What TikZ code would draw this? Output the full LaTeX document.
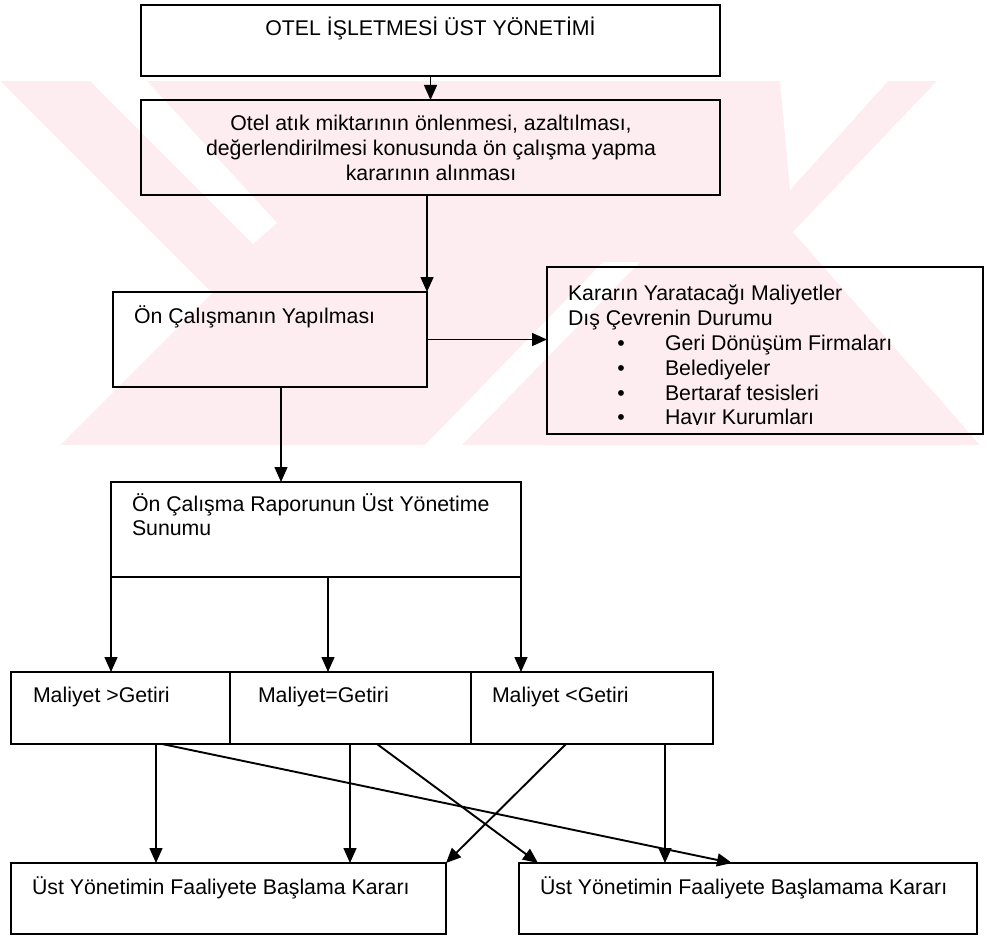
\documentclass[tikz,border=0pt]{standalone}
\usepackage{fontspec}
\setmainfont{Liberation Sans}
\usetikzlibrary{arrows.meta,calc}
\definecolor{wm}{RGB}{253,236,240}
\begin{document}
\begin{tikzpicture}[x=1pt,y=-1pt,
  box/.style={draw=black, line width=1.7pt, inner sep=0pt, outer sep=0pt},
  txt/.style={inner sep=0pt, outer sep=0pt, font=\fontsize{21.3}{25}\selectfont},
  arr/.style={draw=black, line width=1.5pt, -{Triangle[length=15pt,width=13pt]}},
  darr/.style={arr, line width=1.9pt},
]
\useasboundingbox (0,0) rectangle (998,936);

% pale background emblem
\fill[wm] (0,81) rectangle (998,445);
\fill[white] (0,81) -- (212,293) -- (60,445) -- (0,445) -- cycle;
\fill[white] (90,81) -- (147,81) -- (277,223) -- (253,244) -- cycle;
\fill[white] (937,81) -- (998,81) -- (998,445) -- (980,445) -- (793,232) -- cycle;
\fill[white] (780,81) -- (888,81) -- (790,190) -- cycle;
\fill[white] (425,445) -- (462,445) -- (640,262) -- (603,262) -- cycle;

% boxes
\node[box, anchor=north west, minimum width=579pt, minimum height=71pt]  (top)  at (141,5)   {};
\node[box, anchor=north west, minimum width=579pt, minimum height=95pt]  (dec)  at (141,100) {};
\node[box, anchor=north west, minimum width=314pt, minimum height=95pt]  (pre)  at (113,292) {};
\node[box, anchor=north west, minimum width=436pt, minimum height=167pt] (ext)  at (547,267) {};
\node[box, anchor=north west, minimum width=410pt, minimum height=95pt]  (rep)  at (111,482) {};
\node[box, anchor=north west, minimum width=219pt, minimum height=72pt]  (mA)   at (11,672)  {};
\node[box, anchor=north west, minimum width=241pt, minimum height=72pt]  (mB)   at (230,672) {};
\node[box, anchor=north west, minimum width=242pt, minimum height=72pt]  (mC)   at (471,672) {};
\node[box, anchor=north west, minimum width=435pt, minimum height=71pt]  (go)   at (11,863)  {};
\node[box, anchor=north west, minimum width=458pt, minimum height=71pt]  (nogo) at (519,863) {};

% texts
\node[txt, anchor=base] (ttop) at (430.5,36) {OTEL İŞLETMESİ ÜST YÖNETİMİ};
\node[txt, anchor=base] (td1) at (431,131) {Otel atık miktarının önlenmesi, azaltılması,};
\node[txt, anchor=base] (td2) at (431,156) {değerlendirilmesi konusunda ön çalışma yapma};
\node[txt, anchor=base] (td3) at (431,181) {kararının alınması};
\node[txt, anchor=base west] (tpre) at (134,323) {Ön Çalışmanın Yapılması};

\node[txt, anchor=base west] (te1) at (568,300) {Kararın Yaratacağı Maliyetler};
\node[txt, anchor=base west] (te2) at (568,325) {Dış Çevrenin Durumu};
\node[txt, anchor=base] (b1) at (621,350) {•};
\node[txt, anchor=base] (b2) at (621,375) {•};
\node[txt, anchor=base] (b3) at (621,400) {•};
\node[txt, anchor=base] (b4) at (621,424) {•};
\node[txt, anchor=base west] (ti1) at (665,350) {Geri Dönüşüm Firmaları};
\node[txt, anchor=base west] (ti2) at (665,375) {Belediyeler};
\node[txt, anchor=base west] (ti3) at (665,400) {Bertaraf tesisleri};
\begin{scope}
  \clip (548,400) rectangle (982,424.6);
  \node[txt, anchor=base west] (ti4) at (665,424) {Hayır Kurumları};
\end{scope}

\node[txt, anchor=base west] (tr1) at (132,511) {Ön Çalışma Raporunun Üst Yönetime};
\node[txt, anchor=base west] (tr2) at (132,535) {Sunumu};

\node[txt, anchor=base west] (tA) at (33,702)  {Maliyet >Getiri};
\node[txt, anchor=base west] (tB) at (258,702) {Maliyet=Getiri};
\node[txt, anchor=base west] (tC) at (492,702) {Maliyet <Getiri};

\node[txt, anchor=base west] (tgo)   at (32,894)  {Üst Yönetimin Faaliyete Başlama Kararı};
\node[txt, anchor=base west] (tnogo) at (540,894) {Üst Yönetimin Faaliyete Başlamama Kararı};

% connectors
\draw[arr] (top.south) -- (dec.south |- dec.north);
\draw[arr] (dec.south -| pre.north east) -- (pre.north east);
\draw[arr] (pre.east) -- (pre.east -| ext.west);
\draw[arr] (pre.south -| 281,0) -- (rep.north -| 281,0);
\draw[arr] (rep.south west) -- (rep.south west |- mA.north);
\draw[arr] (rep.south -| 328,0) -- (mB.north -| 328,0);
\draw[arr] (rep.south east) -- (rep.south east |- mC.north);
\draw[arr] (mA.south -| 156,0) -- (go.north -| 156,0);
\draw[arr] (mB.south -| 350,0) -- (go.north -| 350,0);
\draw[darr] (mC.south -| 566,0) -- (go.north east);
\draw[darr] (mB.south -| 377,0) -- (nogo.north -| 538,0);
\draw[arr] (mC.south -| 665,0) -- (nogo.north -| 665,0);
\draw[darr] (mA.south -| 162,0) -- (nogo.north -| 732,0);
\end{tikzpicture}
\end{document}
